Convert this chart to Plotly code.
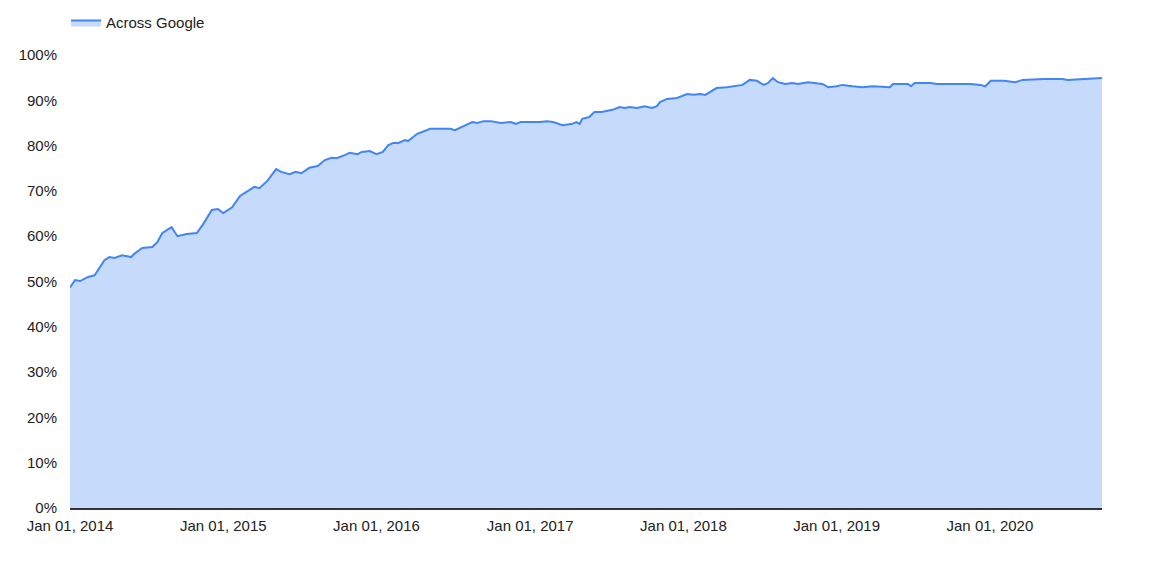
import plotly.graph_objects as go

# weekly-ish share of encrypted traffic
dates = [
    "2014-01-01", "2014-01-13", "2014-01-25", "2014-02-13", "2014-03-01",
    "2014-03-12", "2014-03-24", "2014-04-05", "2014-04-17", "2014-05-05",
    "2014-05-27", "2014-06-03", "2014-06-22", "2014-07-16", "2014-07-28",
    "2014-08-09", "2014-08-31", "2014-09-14", "2014-10-06", "2014-10-30",
    "2014-11-13", "2014-12-05", "2014-12-19", "2015-01-01", "2015-01-22",
    "2015-02-10", "2015-03-01", "2015-03-16", "2015-03-28", "2015-04-16",
    "2015-05-07", "2015-05-19", "2015-06-08", "2015-06-22", "2015-07-06",
    "2015-07-25", "2015-08-14", "2015-08-31", "2015-09-16", "2015-09-28",
    "2015-10-17", "2015-10-29", "2015-11-17", "2015-11-27", "2015-12-16",
    "2016-01-01", "2016-01-16", "2016-01-29", "2016-02-10", "2016-02-22",
    "2016-03-09", "2016-03-16", "2016-04-07", "2016-05-08", "2016-05-20",
    "2016-06-25", "2016-07-06", "2016-07-30", "2016-08-16", "2016-08-28",
    "2016-09-12", "2016-09-29", "2016-10-23", "2016-11-16", "2016-11-28",
    "2016-12-09", "2016-12-26", "2017-01-13", "2017-01-25", "2017-02-10",
    "2017-02-25", "2017-03-19", "2017-04-12", "2017-04-21", "2017-04-29",
    "2017-05-05", "2017-05-22", "2017-06-03", "2017-06-20", "2017-07-16",
    "2017-08-02", "2017-08-14", "2017-08-26", "2017-09-12", "2017-10-01",
    "2017-10-18", "2017-10-30", "2017-11-06", "2017-11-23", "2017-12-17",
    "2018-01-10", "2018-01-25", "2018-02-10", "2018-02-22", "2018-03-04",
    "2018-03-21", "2018-04-14", "2018-05-22", "2018-06-08", "2018-06-25",
    "2018-07-11", "2018-07-21", "2018-08-02", "2018-08-14", "2018-09-01",
    "2018-09-17", "2018-10-01", "2018-10-25", "2018-11-28", "2018-12-12",
    "2019-01-01", "2019-01-15", "2019-02-08", "2019-03-04", "2019-03-28",
    "2019-05-08", "2019-05-15", "2019-06-20", "2019-06-27", "2019-07-06",
    "2019-08-12", "2019-08-28", "2019-10-15", "2019-11-16", "2019-12-09",
    "2019-12-21", "2020-01-03", "2020-02-03", "2020-03-02", "2020-03-19",
    "2020-05-08", "2020-06-22", "2020-07-04", "2020-08-12", "2020-09-24",
]
pct = [
    48.7, 50.3, 50.1, 51.0, 51.4,
    53.0, 54.7, 55.4, 55.2, 55.8,
    55.4, 56.1, 57.4, 57.6, 58.7,
    60.7, 62.0, 60.0, 60.5, 60.7,
    62.5, 65.8, 66.0, 65.1, 66.4,
    68.9, 70.0, 70.9, 70.6, 72.2,
    74.8, 74.2, 73.7, 74.2, 73.9,
    75.1, 75.5, 76.8, 77.3, 77.2,
    77.9, 78.4, 78.1, 78.6, 78.8,
    78.1, 78.6, 80.1, 80.6, 80.6,
    81.2, 81.0, 82.6, 83.7, 83.7,
    83.7, 83.4, 84.5, 85.2, 85.0,
    85.4, 85.4, 85.0, 85.2, 84.8,
    85.2, 85.2, 85.2, 85.2, 85.4,
    85.2, 84.5, 84.8, 85.2, 84.8,
    85.9, 86.3, 87.4, 87.4, 87.9,
    88.5, 88.3, 88.5, 88.3, 88.7,
    88.3, 88.7, 89.6, 90.3, 90.5,
    91.4, 91.2, 91.4, 91.2, 91.8,
    92.7, 92.9, 93.4, 94.5, 94.3,
    93.4, 93.8, 94.9, 94.0, 93.6,
    93.8, 93.6, 94.0, 93.6, 92.9,
    93.1, 93.4, 93.1, 92.9, 93.1,
    92.9, 93.6, 93.6, 93.1, 93.8,
    93.8, 93.6, 93.6, 93.6, 93.4,
    93.1, 94.3, 94.3, 94.0, 94.5,
    94.7, 94.7, 94.5, 94.7, 94.9,
]
series_name = "Across Google"

fig = go.Figure(go.Scatter(
    x=dates, y=pct, name=series_name, mode="lines",
    fill="tozeroy", fillcolor="#c6dafc",
    line=dict(color="#4285f4", width=2),
))

# the page adds an 8px body margin, so the figure is a bit smaller than the window
fig.update_layout(
    width=1142, height=572,
    margin=dict(l=62, r=48, t=47, b=72),
    paper_bgcolor="white", plot_bgcolor="white",
    font=dict(family="Arial, Liberation Sans, sans-serif", size=15, color="#222"),
    showlegend=True,
    legend=dict(orientation="h", xref="container", yref="container",
                x=0.0508, xanchor="left", y=0.974, yanchor="middle",
                itemwidth=30, font=dict(size=15)),
)
# automargin off, otherwise the legend's reserved space squeezes the plot
fig.update_xaxes(
    range=[dates[0], dates[-1]], tick0="2014-01-01", dtick="M12",
    tickformat="%b %d, %Y", showgrid=False, zeroline=False,
    showline=True, linecolor="#333", linewidth=1.5,
    ticks="outside", ticklen=3, tickcolor="white", automargin=False,
)
fig.update_yaxes(
    range=[0, 100], dtick=10, ticksuffix="%", showgrid=False, zeroline=False,
    showline=False, ticks="outside", ticklen=9, tickcolor="white", automargin=False,
)

fig.write_html("out.html")
